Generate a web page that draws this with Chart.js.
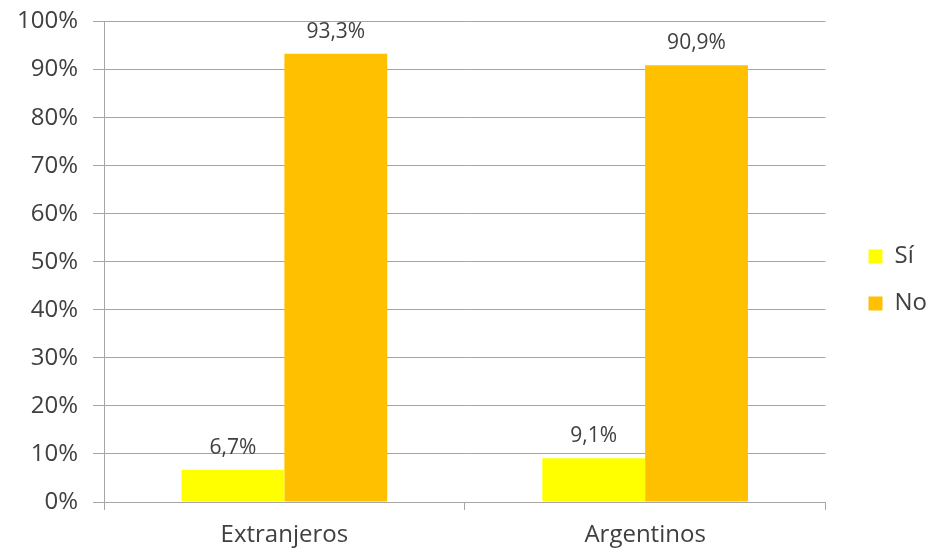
<!DOCTYPE html>
<html>
<head>
<meta charset="utf-8">
<style>
  html, body { margin: 0; padding: 0; background: #fff; }
  #wrap { width: 930px; height: 554px; }
</style>
</head>
<body>
<div id="wrap"><canvas id="myChart"></canvas></div>

<script src="https://cdn.jsdelivr.net/npm/chart.js"></script>
<script>
  // data
  const categories = ['Extranjeros', 'Argentinos']
  const seriesNames = ['Sí', 'No']
  const siValues = [6.7, 9.1]
  const noValues = [93.3, 90.9]
  const seriesColors = ['#FFFF00', '#FFC000']

  const fontFamily = '"Open Sans", sans-serif'
  const textColor = '#404040'
  const gridColor = '#a6a6a6'

  // labels over the bars, with a comma as decimal mark
  const barLabels = {
    id: 'barLabels',
    afterDatasetsDraw: (chart) => {
      const {ctx} = chart
      ctx.save()
      ctx.font = '21px ' + fontFamily
      ctx.fillStyle = textColor
      ctx.textAlign = 'center'
      ctx.textBaseline = 'alphabetic'
      chart.data.datasets.forEach((ds, di) => {
        chart.getDatasetMeta(di).data.forEach((bar, i) => {
          const txt = ds.data[i].toFixed(1).replace('.', ',') + '%'
          ctx.fillText(txt, bar.x, bar.y - 16)
        })
      })
      ctx.restore()
    }
  }

  // push the legend a bit away from the plot, like the original
  const legendShift = {
    id: 'legendShift',
    afterLayout: (chart) => {
      chart.legend.left += 20
      chart.legend.right += 20
      chart.legend.top += 3
      chart.legend.bottom += 3
    }
  }

  const ctx = document.getElementById('myChart')

  new Chart(ctx, {
    type: 'bar',
    data: {
      labels: categories,
      datasets: [{
        label: seriesNames[0],
        data: siValues,
        backgroundColor: seriesColors[0],
        borderWidth: 0
      },
      {
        label: seriesNames[1],
        data: noValues,
        backgroundColor: seriesColors[1],
        borderWidth: 0
      }]
    },
    options: {
      responsive: true,
      maintainAspectRatio: false,
      animation: false,
      layout: {
        padding: {top: 0, left: 2, right: 13, bottom: 0}
      },
      datasets: {
        bar: {
          categoryPercentage: 0.57,
          barPercentage: 1
        }
      },
      scales: {
        x: {
          grid: {
            offset: true,
            drawOnChartArea: false,
            drawTicks: true,
            tickLength: 8,
            color: gridColor
          },
          border: { color: gridColor },
          ticks: {
            color: textColor,
            font: { family: fontFamily, size: 24, lineHeight: 1.35 },
            padding: 9
          },
          afterFit: (scale) => { scale.height = 52 }
        },
        y: {
          min: 0,
          max: 100,
          grid: {
            color: gridColor,
            tickLength: 11
          },
          border: { color: gridColor },
          ticks: {
            stepSize: 10,
            color: textColor,
            padding: 15,
            font: { family: fontFamily, size: 24, lineHeight: 0.55 },
            callback: (v) => v + '%'
          }
        }
      },
      plugins: {
        legend: {
          position: 'right',
          labels: {
            boxWidth: 14,
            boxHeight: 14,
            padding: 23,
            color: textColor,
            font: { family: fontFamily, size: 24 }
          }
        },
        tooltip: { enabled: false }
      }
    },
    plugins: [barLabels, legendShift]
  });
</script>
</body>
</html>
